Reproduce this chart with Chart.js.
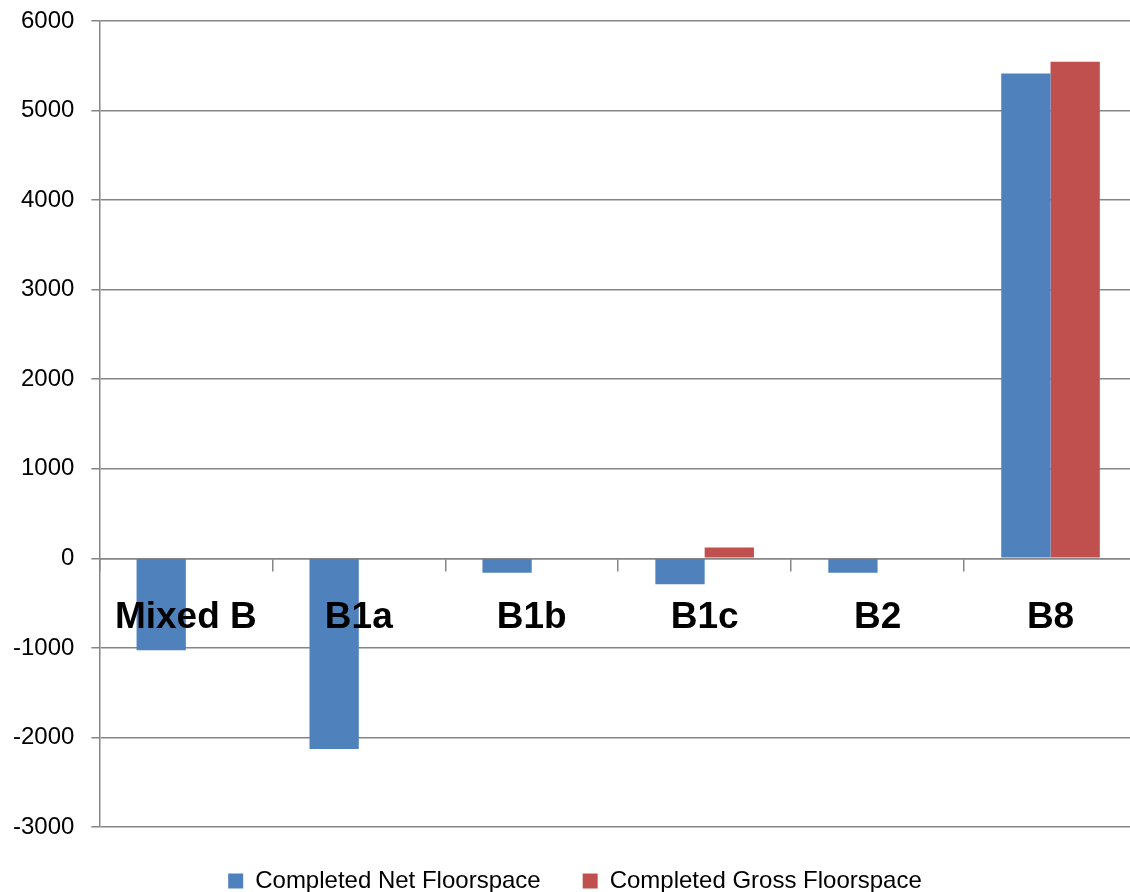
<!DOCTYPE html>
<html>
<head>
<meta charset="utf-8">
<script src="https://cdn.jsdelivr.net/npm/chart.js@4"></script>
<style>
    html, body { margin: 0; padding: 0; background: #fff; overflow: hidden; }
    #wrap { width: 1140px; height: 903px; }
</style>
</head>
<body>
<div id="wrap"><canvas id="floorChart"></canvas></div>
<script>
// Completed floorspace by use class
const categories = ["Mixed B", "B1a", "B1b", "B1c", "B2", "B8"];
const netFloorspace = [-1025, -2130, -160, -290, -160, 5415];
const grossFloorspace = [0, 0, 0, 120, 0, 5545];
const yTicks = { min: -3000, max: 6000, step: 1000 };

const gridGrey = "#868686";

Chart.defaults.font.family = "'Liberation Sans', Arial, sans-serif";
Chart.defaults.color = "#000";

// stop the axes from pushing the plot area in
function noAxisPadding(scale) {
    scale.paddingTop = 0;
    scale.paddingBottom = 0;
    scale.paddingLeft = 0;
    scale.paddingRight = 0;
}

const ctx = document.getElementById("floorChart").getContext("2d");

new Chart(ctx, {
    type: "bar",
    data: {
        labels: categories,
        datasets: [{
            label: "Completed Net Floorspace",
            data: netFloorspace,
            backgroundColor: "#4F81BD",
            borderWidth: 0
        }, {
            label: "Completed Gross Floorspace",
            data: grossFloorspace,
            backgroundColor: "#C0504D",
            borderWidth: 0
        }]
    },
    options: {
        responsive: true,
        maintainAspectRatio: false,
        animation: false,
        layout: {
            padding: { top: 21, left: 13, right: 3, bottom: 0 }
        },
        datasets: {
            bar: {
                categoryPercentage: 0.57,
                barPercentage: 1.0
            }
        },
        scales: {
            x: {
                position: { y: 0 },
                offset: true,
                afterFit: noAxisPadding,
                grid: {
                    offset: true,
                    drawOnChartArea: false,
                    drawTicks: true,
                    tickLength: 12,
                    color: gridGrey,
                    lineWidth: 1.5
                },
                border: { color: gridGrey, width: 1.5 },
                ticks: {
                    z: 1,
                    autoSkip: false,
                    maxRotation: 0,
                    padding: 25,
                    font: { size: 37, weight: "bold" }
                }
            },
            y: {
                min: yTicks.min,
                max: yTicks.max,
                afterFit: function (scale) {
                    noAxisPadding(scale);
                    // fit() counts the tick padding twice
                    scale.width -= scale.options.ticks.padding;
                },
                grid: {
                    color: gridGrey,
                    lineWidth: 1.5,
                    tickLength: 8
                },
                border: { color: gridGrey, width: 1.5 },
                ticks: {
                    stepSize: yTicks.step,
                    padding: 17,
                    font: { size: 24 },
                    callback: function (value) {
                        return String(value);
                    }
                }
            }
        },
        plugins: {
            legend: {
                position: "bottom",
                labels: {
                    boxWidth: 15,
                    boxHeight: 15,
                    padding: 42,
                    font: { size: 24 }
                }
            },
            tooltip: { enabled: false }
        }
    }
});
</script>
</body>
</html>
